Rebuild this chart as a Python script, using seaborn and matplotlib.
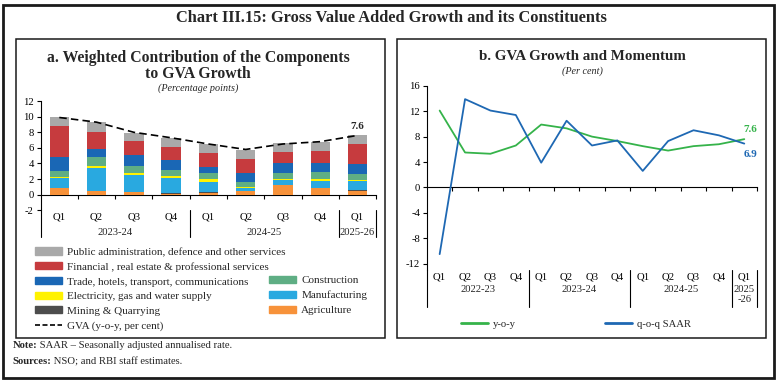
import numpy as np
import pandas as pd
import matplotlib
matplotlib.use('Agg')
import matplotlib.pyplot as plt
import matplotlib.transforms as mtransforms
from matplotlib.patches import Patch, Rectangle
from matplotlib.lines import Line2D
import seaborn as sns

# Panel a: weighted contributions (percentage points)
quarters_a = ['Q1', 'Q2', 'Q3', 'Q4', 'Q1', 'Q2', 'Q3', 'Q4', 'Q1']
years_a = ['2023-24', '2024-25', '2025-26']
agri = [0.85, 0.45, 0.30, 0.15, 0.20, 0.50, 1.20, 0.80, 0.50]
mining = [0.05, 0.03, 0.10, 0.05, 0.10, 0.03, 0.02, 0.02, 0.05]
manuf = [1.25, 2.95, 2.15, 1.95, 1.35, 0.30, 0.65, 0.95, 1.25]
elec = [0.15, 0.30, 0.25, 0.25, 0.30, 0.15, 0.20, 0.20, 0.05]
constr = [0.80, 1.05, 0.90, 0.80, 0.85, 0.65, 0.65, 1.00, 0.75]
trade = [1.75, 1.10, 1.40, 1.20, 0.80, 1.10, 1.30, 1.10, 1.35]
fin = [3.90, 2.20, 1.80, 1.75, 1.80, 1.85, 1.40, 1.55, 2.55]
pub = [1.15, 1.25, 1.05, 1.10, 1.15, 1.15, 1.15, 1.15, 1.15]
gva = [9.9, 9.3, 8.0, 7.3, 6.5, 5.8, 6.5, 6.8, 7.6]

# Panel b: GVA growth and momentum (per cent)
quarters_b = ['Q1', 'Q2', 'Q3', 'Q4'] * 3 + ['Q1']
years_b = ['2022-23', '2023-24', '2024-25', '2025\n-26']
yoy = [12.1, 5.5, 5.3, 6.6, 9.9, 9.3, 8.0, 7.3, 6.5, 5.8, 6.5, 6.8, 7.6]
saar = [-10.5, 13.9, 12.1, 11.4, 3.9, 10.5, 6.6, 7.4, 2.6, 7.3, 9.0, 8.2, 6.9]

sns.set_theme(style='ticks')
plt.rcParams['font.family'] = ['Liberation Serif', 'DejaVu Serif']
plt.rcParams['axes.unicode_minus'] = False
plt.rcParams['axes.linewidth'] = 0.8
plt.rcParams['xtick.major.width'] = 0.8
plt.rcParams['ytick.major.width'] = 0.8
plt.rcParams['xtick.color'] = 'black'
plt.rcParams['ytick.color'] = 'black'
plt.rcParams['axes.edgecolor'] = 'black'

fs = 7.7
comp_names = ['Agriculture', 'Mining & Quarrying', 'Manufacturing',
              'Electricity, gas and water supply', 'Construction',
              'Trade, hotels, transport, communications',
              'Financial , real estate & professional services',
              'Public administration, defence and other services']
comp_vals = [agri, mining, manuf, elec, constr, trade, fin, pub]
colors = {'Agriculture': '#F7923A', 'Mining & Quarrying': '#4D4D4D',
          'Manufacturing': '#29A9E0', 'Electricity, gas and water supply': '#FFF200',
          'Construction': '#5FAE84', 'Trade, hotels, transport, communications': '#1A67B5',
          'Financial , real estate & professional services': '#C63B3E',
          'Public administration, defence and other services': '#A9A9A9'}

comp = pd.DataFrame(dict(zip(comp_names, comp_vals)))
cum = comp.cumsum(axis=1)

fig = plt.figure(figsize=(7.82, 3.83), dpi=100)
axa = fig.add_axes([0.052, 0.451, 0.429, 0.285])
axb = fig.add_axes([0.546, 0.295, 0.422, 0.481])

# ---- panel a ----
x_a = np.arange(len(quarters_a))
# overlay cumulative bars, tallest first
for name in comp_names[::-1]:
    sns.barplot(x=x_a, y=cum[name].values, color=colors[name], width=0.52,
                saturation=1, errorbar=None, linewidth=0, ax=axa)
sns.lineplot(x=x_a, y=gva, color='black', linestyle='--', dashes=False,
             linewidth=1.2, ax=axa)
axa.lines[-1].set_dashes((4.5, 2.5))
axa.annotate(f'{gva[-1]}', (x_a[-1], gva[-1]), xytext=(0, 3), textcoords='offset points',
             ha='center', va='bottom', fontsize=8, fontweight='bold')
axa.set_xlim(-0.5, 8.5)
axa.set_ylim(-2, 12)
axa.set_yticks(range(-2, 13, 2))
axa.set_xticks(x_a, quarters_a)
axa.tick_params(axis='x', length=0, pad=1.5, labelsize=fs)
axa.tick_params(axis='y', length=3, pad=2, labelsize=fs)
for s in ['top', 'right', 'bottom']:
    axa.spines[s].set_visible(False)
seca = axa.secondary_xaxis(2 / 14)
seca.set_xticks(np.arange(0.5, 9, 1), labels=[])
seca.tick_params(direction='out', length=3, width=0.8)
trans_a = mtransforms.blended_transform_factory(axa.transData, axa.transAxes)
for xv in [-0.5, 3.5, 7.5, 8.5]:
    axa.plot([xv, xv], [0, -0.245], transform=trans_a, clip_on=False, color='black', lw=0.8)
for xv, lab in zip([1.5, 5.5, 8.0], years_a):
    axa.text(xv, -0.2, lab, transform=trans_a, ha='center', va='center', fontsize=fs)

# legends for panel a
leg_kw = dict(loc='upper left', frameon=False, fontsize=8, borderpad=0, borderaxespad=0,
              handlelength=2.45, handleheight=0.6, handletextpad=0.45, labelspacing=0.47)
left_handles = [Patch(color=colors[comp_names[7]]), Patch(color=colors[comp_names[6]]),
                Patch(color=colors[comp_names[5]]), Patch(color=colors[comp_names[3]]),
                Patch(color=colors[comp_names[1]]),
                Line2D([], [], color='black', linestyle=(0, (3, 1.5)), lw=1.2)]
left_labels = [comp_names[7], comp_names[6], comp_names[5], comp_names[3], comp_names[1],
               'GVA (y-o-y, per cent)']
fig.legend(left_handles, left_labels, bbox_to_anchor=(35 / 782, 1 - 247.5 / 383), **leg_kw)
right_handles = [Patch(color=colors[comp_names[4]]), Patch(color=colors[comp_names[2]]),
                 Patch(color=colors[comp_names[0]])]
right_labels = [comp_names[4], comp_names[2], comp_names[0]]
fig.legend(right_handles, right_labels, bbox_to_anchor=(269 / 782, 1 - 276 / 383), **leg_kw)

# ---- panel b ----
x_b = np.arange(len(quarters_b))
sns.lineplot(x=x_b, y=yoy, color='#35B34A', linewidth=1.3, ax=axb)
sns.lineplot(x=x_b, y=saar, color='#1E68B3', linewidth=1.3, ax=axb)
axb.annotate(f'{yoy[-1]}', (x_b[-1], yoy[-1]), xytext=(4.5, 7), textcoords='offset points',
             ha='center', va='center', fontsize=8, fontweight='bold', color='#35B34A')
axb.annotate(f'{saar[-1]}', (x_b[-1], saar[-1]), xytext=(4.5, -8), textcoords='offset points',
             ha='center', va='center', fontsize=8, fontweight='bold', color='#1E68B3')
axb.set_xlim(-0.5, 12.5)
axb.set_ylim(-13, 16)
axb.set_yticks(range(-12, 17, 4))
axb.set_xticks(x_b, quarters_b)
axb.tick_params(axis='x', length=0, pad=2, labelsize=fs)
axb.tick_params(axis='y', length=3, pad=2, labelsize=fs)
for s in ['top', 'right', 'bottom']:
    axb.spines[s].set_visible(False)
secb = axb.secondary_xaxis(13 / 29)
secb.set_xticks(np.arange(0.5, 13, 1), labels=[])
secb.tick_params(direction='out', length=3, width=0.8)
trans_b = mtransforms.blended_transform_factory(axb.transData, axb.transAxes)
for xv in [-0.5, 3.5, 7.5, 11.5, 12.5]:
    axb.plot([xv, xv], [0, -0.2], transform=trans_b, clip_on=False, color='black', lw=0.8)
for xv, lab in zip([1.5, 5.5, 9.5, 12.0], years_b):
    axb.text(xv, -0.082, lab, transform=trans_b, ha='center', va='top', fontsize=fs,
             linespacing=1.15)

fig.legend([Line2D([], [], color='#35B34A', lw=2), Line2D([], [], color='#1E68B3', lw=2)],
           ['y-o-y', 'q-o-q SAAR'], loc='center left', bbox_to_anchor=(461 / 782, 1 - 324 / 383),
           frameon=False, fontsize=fs, ncol=2, borderpad=0, borderaxespad=0,
           handlelength=2.5, handletextpad=0.5, columnspacing=8.3)

# ---- titles, frames, notes ----
fig.text(0.5, 1 - 18 / 383, 'Chart III.15: Gross Value Added Growth and its Constituents',
         ha='center', va='center', fontsize=11.8, fontweight='bold')
fig.text(198 / 782, 1 - 66 / 383, 'a. Weighted Contribution of the Components\nto GVA Growth',
         ha='center', va='center', fontsize=11.3, fontweight='bold', linespacing=1.05)
fig.text(198 / 782, 1 - 88.5 / 383, '(Percentage points)', ha='center', va='center',
         fontsize=7.3, style='italic')
fig.text(582 / 782, 1 - 56 / 383, 'b. GVA Growth and Momentum', ha='center', va='center',
         fontsize=10.8, fontweight='bold')
fig.text(582 / 782, 1 - 71 / 383, '(Per cent)', ha='center', va='center',
         fontsize=7.3, style='italic')

for x0 in [16, 397]:
    fig.add_artist(Rectangle((x0 / 782, 1 - 338 / 383), 369 / 782, (338 - 39.3) / 383,
                             transform=fig.transFigure, fill=False, lw=1.1, ec='#1a1a1a'))
fig.add_artist(Rectangle((3.3 / 782, 1 - 378 / 383), 770.7 / 782, 373 / 383,
                         transform=fig.transFigure, fill=False, lw=2, ec='#1a1a1a'))

n1 = fig.text(12.3 / 782, 1 - 346 / 383, 'Note:', ha='left', va='center', fontsize=fs,
              fontweight='bold')
plt.annotate(' SAAR \u2013 Seasonally adjusted annualised rate.', xy=(1, 0.5), xycoords=n1,
             va='center', ha='left', fontsize=fs, annotation_clip=False)
n2 = fig.text(12.3 / 782, 1 - 362 / 383, 'Sources:', ha='left', va='center', fontsize=fs,
              fontweight='bold')
plt.annotate(' NSO; and RBI staff estimates.', xy=(1, 0.5), xycoords=n2,
             va='center', ha='left', fontsize=fs, annotation_clip=False)

fig.savefig('out.png', dpi=100)
